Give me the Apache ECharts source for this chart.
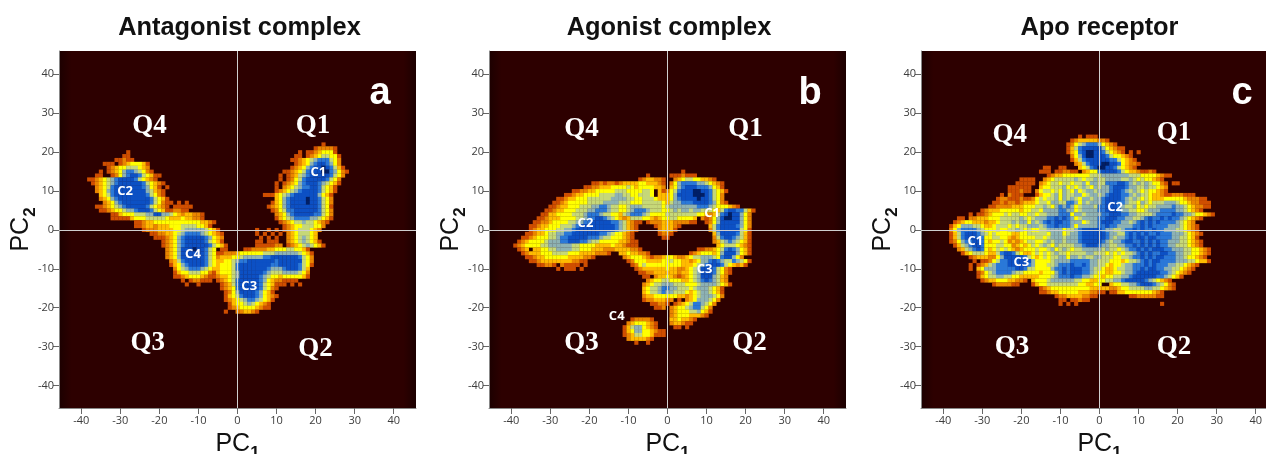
<!DOCTYPE html>
<html>
<head>
<meta charset="utf-8">
<style>html,body{margin:0;padding:0;background:#fff;overflow:hidden}#c{width:1266px;height:454px}</style>
<script src="https://cdn.jsdelivr.net/npm/echarts@6/dist/echarts.min.js"></script>
</head>
<body>
<div id="c"></div>
<script>
var titles = ["Antagonist complex", "Agonist complex", "Apo receptor"];
var tickLabels = [-40, -30, -20, -10, 0, 10, 20, 30, 40];
var palette = ["#2d0000", "#cf4e00", "#ea8500", "#ffbb00", "#ffff00", "#c6d878", "#8db2b4", "#2a78d8", "#0c50c4", "#001f66"];

var rowsA = [
[22,22,"1"],[21,20,"122221"],[20,16,"1.11234441"],[19,15,"11.123455441"],[18,14,"1123456777542"],
[17,15,"123467887642"],[16,14,"12346788987531"],[15,12,"11234578889976421"],[14,11,"1.123567888887542"],
[13,11,"1.12457888887542"],[12,10,"1.123467888765431"],[11,10,"1.23456778875431"],[10,10,"1234567888875431"],
[9,7,"111345678888886431"],[8,10,"346788889887542"],[7,9,"1346788889887542"],[6,8,"12346788888887541"],
[5,9,"1245778888887542"],[4,10,"234678888877542"],[3,10,"134567777665431"],[2,11,"1234556554321"],
[1,12,"12344555442"],[0,5,"1..1.1"],[0,12,"1234555432"],[-1,5,"1.1.1.1"],[-1,13,"23455543"],[-2,6,"1.1.1"],[-2,13,"23456543"],
[-3,5,"11.111"],[-3,13,"234565431"],[-4,5,"1111122.1234565431"],[-5,-4,"11"],[-5,2,"1122223344455443 1"],
[20,-28,"1"],[19,-29,"11"],[18,-31,"11211"],[17,-34,"111.12344431"],[16,-33,"12344555432"],[15,-35,"1.123467765421"],
[14,-36,"11..1246788754311"],[13,-38,"112345678888754321"],[12,-37,"1234567888888754321"],[11,-36,"23457888888876431.1"],
[10,-36,"234678888888865321"],[9,-35,"34578888888875421"],[8,-35,"234678888888875431"],[7,-34,"234678888888754211"],[7,-15,"1.1"],
[6,-36,"1123456788888754321"],[6,-16,"11111"],[5,-35,"11234456678887543112211"],[4,-32,"113444555668866543233221"],
[3,-32,"1111134445555543334332 21"],[2,-26,"11233444444444444332 1"],[1,-26,"11233233344455554431"],
[0,-24,"12223333445666665431"],[-1,-22,"1122334567777654321"],[-2,-21,"111234678888876432"],
[-3,-19,"1234678888875431"],[-4,-19,"12346788888875431"],[-5,-18,"2346888988754"],[-6,-18,"2346888888754"],[-7,-18,"2346888888754"],
[-8,-17,"235788888754"],[-9,-17,"134678888754"],[-10,-16,"24567776543"],[-11,-16,"13445554421"],[-12,-16,"11234443211"],
[-13,-14,"1.122111"],[-14,-13,"1..1"],
[-6,-5,"1122234444445556666665431"],[-7,-5,"2333445666667788888887542"],[-8,-5,"3344567788888887888888542"],
[-9,-5,"3444578888888877888887541"],[-10,-5,"344457888888876667888753"],[-11,-5,"344456888888765556666542"],
[-12,-5,"233456888887654434444431"],[-13,-5,"123457888887643221111"],[-14,-4,"12357888887543111.1.1"],
[-15,-4,"123478888875421"],[-16,-3,"1246888876431"],[-17,-3,"13457888764321"],[-18,-3,"1234567765431"],
[-19,-2,"13445654321"],[-20,-2,"12344443211"],[-21,-3,"1..223321"]
];

var rowsB = [
[15,4,"1"],[14,-5,"1"],[14,1,"1112111"],[13,-7,"1233221..23455443321"],
[12,-19,"1121221233334433321.24677776654321"],[11,-21,"112233344445434444332.34678887776431"],
[10,-24,"112233444445554444554.312457888998875431"],[9,-26,"11233444455556655445554.3334688889998 7542"],
[8,-28,"1123344455555566665544555433346788889887542"],[7,-29,"112344444555566665554445555543566777888876421"],
[6,-30,"1123344455566776554456665555545666666677765444321"],
[5,-31,"11233444555667776554456777655544565665665554357887 7531"],
[4,-32,"113344445556777655443567776544445555555544323578988642"],
[3,-33,"11233344445567788765432355544323445544443.2124689988642"],
[2,-34,"1122344445566778888877653211.1222333222211..12468888 8642"],
[1,-35,"11233444555678888888887653 21"],[1,-3,"123332 1"],[1,11,"35788887642"],
[0,-35,"12334445566788888888887653 21"],[0,-2,"23331"],[0,11,"25788888541"],
[-1,-36,"1123345566778888888776544321"],[-1,-9,"1"],[-1,-2,"1221"],[-1,12,"36888875 31"],
[-2,-37,"11234445567788888777655444321"],[-2,-1,"11"],[-2,12,"25788765 31"],
[-3,-38,"1234444566677888776554444433211"],[-3,12,"23567654 31"],
[-4,-39,"12344445566666655444433334332111"],[-4,13,"34555432 1"],
[-5,-38,"123.3344556666554443332223333221"],[-5,8,"11223457876431"],
[-6,-37,"123334445555444333322 21..33433221"],[-6,6,"12344434688864 31"],
[-7,-36,"112334444443333221"],[-7,-11,"2344432122344322345566654788642"],
[-8,-35,"112333333332211"],[-8,-10,"124443333445443 3234667876557654 1"],
[-9,-33,"11221.21111.1"],[-9,-9,"1245444444444333456788875432 31"],
[-10,-28,"1.111.1"],[-10,-8,"123333334332234568887 5421"],
[-11,-7,"112233333323345688875421"],[-12,-6,"11.2334321234568886532"],[-13,-5,"234455444334567876532"],
[-14,-6,"23455666555 4445666654 31"],[-15,-6,"345567766555456665431"],[-16,-6,"345567665554345665431"],
[-17,-6,"23344444433234566654 2"],[-18,-6,"1223332 2.1.2346665 42"],[-19,-4,"11221.123457765 42"],
[-20,-3,"112"],[-20,1,"23445677 542"],[-21,1,"23444556 431"],[-22,1,"2344433321"],[-23,1,"3343321"],[-24,1,"233211"],[-25,2,"11.1"],
[-23,-9,"122221"],[-24,-10,"23444321"],[-25,-11,"135664321"],[-26,-11,"1346644 3211"],[-27,-11,"1235544 3111"],[-28,-10,"2333321"],[-29,-8,"1..1"]
];

var rowsC = [
[24,-5,"1.111"],[23,-7,"1233333221"],[22,-8,"1245677764321"],[21,-8,"135788888643211"],[20,-8,"1347899887543 21.1.1"],
[19,-7,"2468998887544321"],[18,-7,"13578888887754321"],[17,-6,"23578889988743221"],[16,-14,"11"],[16,-10,"11"],[16,-5,"345789988754321"],
[15,-15,"111.11221 1.234478888754332112 1"],[14,-13,"12334444444555666666655544443211"],
[13,-20,"1111"],[13,-14,"234555556545565566665565454432 1"],
[12,-21,"11111"],[12,-15,"234554554556466557778876565654421.11"],
[11,-23,"111111"],[11,-15,"344555645456546566788876655655432"],
[10,-23,"111211"],[10,-16,"24554546546456656667887656545443 21"],
[9,-25,"1.2111"],[9,-16,"134456465566456656788877656554332112221 11"],
[8,-26,"1221112111"],[8,-17,"245455646565466566788887656545433344444322211"],
[7,-27,"1121221233"],[7,-17,"345546655776465666788877655465 45556665443221 11"],
[6,-28,"1122223334"],[6,-18,"445565467676456665778887655645455666676654322 11"],
[5,-30,"123334444434455466667766456666778887665544566677776654 321"],
[4,-33,"1.112344454554455455666777466566667788877665555677778776654 4321"],
[3,-36,"11.223334445555565456667787876456666778887766556787787877654321"],
[2,-37,"1234433323345556566465678788776664566788877665678787877776543 2"],
[1,-38,"13466655433455545455666567787776466666778776666778787777666543 21"],
[0,-38,"2467777654445445565454455666645567888887665567787877877666554321"],
[-1,-38,"13578887654544443344555554666456678888887665578787877877766654321"],
[-2,-38,"135788877445544323444455456665666788888876566787887887777665543 1"],
[-3,-38,"12467788743445423234554456566566678888876566788778787877666554321"],
[-4,-37,"1356788744455442343454565465555667888766556677878787877665554321"],
[-5,-36,"235678743454543234445445645654556666656554567787878887766655443 21"],
[-6,-35,"134555433578875433454545655455556655545454556787877887766554 4321"],
[-7,-33,"1233322468888875434545566466565566555445567787878877766544321"],
[-8,-32,"1.11245778888886444456666777776655544434556787887777666554331"],
[-9,-33,"1.12356777888887644455677787787665543445667778787776655 4321"],
[-10,-33,"1.34666777778875544446778788877655433455667787887766554321"],
[-11,-31,"1245677776554444344467878887765443344566788888877654321"],
[-12,-31,"134556655443333344456777877665443445566788888877654 31"],
[-13,-30,"12334443322 1.34445666666554433445566788888765 4321"],
[-14,-27,"122221 1...1344555555554433 44..344556678887654 21"],
[-15,-15,"12344444444443333322344555566554321"],[-16,-15,"112334444433322 11.11334444444321"],
[-17,-11,"12233332211........1122222 11"],[-18,-10,"11.11211"],[-19,-10,"1.1.1"],[-19,16,"1"]
];

var qLabels = [
  [["Q1", 19.3, 26.6], ["Q2", 20, -30.7], ["Q3", -23, -29.1], ["Q4", -22.5, 26.6]],
  [["Q1", 20, 26], ["Q2", 21, -29], ["Q3", -22, -29], ["Q4", -22, 26]],
  [["Q1", 19.1, 24.8], ["Q2", 19.1, -30], ["Q3", -22.4, -30], ["Q4", -23, 24.5]]
];
var clusterLabels = [
  [["C1", 20.7, 14.8], ["C2", -28.8, 9.8], ["C3", 3, -14.6], ["C4", -11.4, -6.4]],
  [["C1", 11.4, 4.2], ["C2", -21, 1.8], ["C3", 9.5, -10.2], ["C4", -13, -22.2]],
  [["C1", -31.8, -3], ["C2", 4, 5.8], ["C3", -20, -8.4], []]
];
var panelLetters = [[["a", 36.5, 35]], [["b", 36.5, 35]], [["c", 36.5, 35]]];
var panelRows = [rowsA, rowsB, rowsC];
var gridLefts = [59, 489, 921];
var titleCenters = [234.5, 664, 1094.5];

function expand(rows) {
  var cells = {};
  rows.forEach(function (r) {
    var s = r[2].replace(/ /g, "");
    for (var i = 0; i < s.length; i++) {
      if (s[i] !== ".") cells[(r[1] + i) + "," + r[0]] = [r[1] + i, r[0], +s[i]];
    }
  });
  return Object.keys(cells).map(function (k) { return cells[k]; });
}
function textSeries(idx, items, font) {
  return {
    type: "scatter", xAxisIndex: idx, yAxisIndex: idx, symbolSize: 0, silent: true, z: 6,
    itemStyle: { opacity: 1 },
    data: items.filter(function (d) { return d.length; }).map(function (d) { return { value: [d[1], d[2]], name: d[0] }; }),
    label: Object.assign({ show: true, position: "inside", color: "#fff", opacity: 1, formatter: "{b}" }, font)
  };
}
var axisLine = { show: true, onZero: false, lineStyle: { color: "#888", width: 1 } };
var tickStyle = { show: true, length: 6, lineStyle: { color: "#666" }, customValues: tickLabels };
function labelStyle(margin) {
  return { color: "#3c3c3c", fontSize: 11, fontFamily: "Open Sans", margin: margin, customValues: tickLabels };
}
var nameRich = {
  p: { fontSize: 25, fontFamily: "Liberation Sans", color: "#111" },
  s: { fontSize: 17, fontFamily: "Liberation Sans", fontWeight: "bold", color: "#111", padding: [18, 0, 0, 0] }
};
var option = { animation: false, backgroundColor: "#fff", title: [], grid: [], xAxis: [], yAxis: [], series: [] };
panelRows.forEach(function (rows, i) {
  option.title.push({ text: titles[i], left: titleCenters[i], top: 10, textAlign: "center",
    textStyle: { fontSize: 25.4, fontWeight: "bold", fontFamily: "Liberation Sans", color: "#111" } });
  option.grid.push({ left: gridLefts[i], top: 51, width: 357, height: 357, show: true, borderWidth: 0, outerBoundsMode: "none",
    backgroundColor: { type: "linear", x: 0, y: 0, x2: 1, y2: 0, colorStops: [
      { offset: 0, color: "#1c0000" }, { offset: 0.035, color: "#2d0000" }, { offset: 0.965, color: "#2d0000" }, { offset: 1, color: "#1c0000" }] } });
  option.xAxis.push({ type: "value", gridIndex: i, min: -45.7, max: 45.7, position: "bottom", axisLine: axisLine,
    axisTick: tickStyle, axisLabel: labelStyle(7), splitLine: { show: false },
    name: "{p|PC}{s|1}", nameLocation: "middle", nameGap: 19, nameTextStyle: { rich: nameRich } });
  option.yAxis.push({ type: "value", gridIndex: i, min: -45.8, max: 46, position: "left", axisLine: axisLine,
    axisTick: tickStyle, axisLabel: labelStyle(5), splitLine: { show: false }, nameMoveOverlap: false,
    name: "{p|PC}{s|2}", nameLocation: "middle", nameGap: 20, nameRotate: 90, nameTextStyle: { rich: nameRich } });
  option.series.push({
    type: "custom", xAxisIndex: i, yAxisIndex: i, silent: true, z: 2, clip: true,
    data: expand(rows), encode: { x: 0, y: 1 },
    renderItem: function (params, api) {
      var p = api.coord([api.value(0) - 0.5, api.value(1) + 0.5]);
      var s = api.size([1, 1]);
      return { type: "rect", shape: { x: p[0], y: p[1], width: s[0] + 0.2, height: s[1] + 0.2 },
        style: { fill: palette[api.value(2)] } };
    },
    markLine: { silent: true, symbol: "none", z: 5, label: { show: false }, animation: false,
      lineStyle: { color: "#cfcfcf", width: 1, type: "solid" },
      data: [{ xAxis: 0 }, { yAxis: 0 }] }
  });
  option.series.push(textSeries(i, qLabels[i], { fontSize: 27, fontWeight: "bold", fontFamily: "Liberation Serif" }));
  option.series.push(textSeries(i, clusterLabels[i], { fontSize: 13, fontWeight: "bold", fontFamily: "Open Sans" }));
  option.series.push(textSeries(i, panelLetters[i], { fontSize: 38, fontWeight: "bold", fontFamily: "Liberation Sans" }));
});
echarts.init(document.getElementById("c")).setOption(option);
</script>
</body>
</html>
